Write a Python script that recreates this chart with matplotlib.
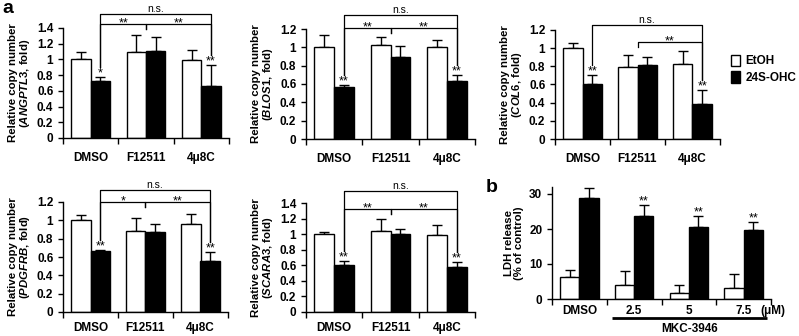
import numpy as np
import matplotlib
matplotlib.use('Agg')
import matplotlib.pyplot as plt
import matplotlib.transforms as mtransforms
from matplotlib.patches import Patch
from matplotlib.ticker import FuncFormatter

plt.rcParams['font.family'] = ['Liberation Sans', 'DejaVu Sans']
plt.rcParams['font.weight'] = 'bold'
plt.rcParams['mathtext.fontset'] = 'custom'
plt.rcParams['mathtext.rm'] = 'Liberation Sans:bold'
plt.rcParams['mathtext.it'] = 'Liberation Sans:italic:bold'

groups = ['DMSO', 'F12511', '4μ8C']

# relative copy number (fold), EtOH vs 24S-OHC
angptl3_etoh = [1.00, 1.10, 0.99]
angptl3_etoh_err = [0.10, 0.21, 0.13]
angptl3_ohc = [0.72, 1.11, 0.66]
angptl3_ohc_err = [0.06, 0.17, 0.27]

blos1_etoh = [1.00, 1.03, 1.00]
blos1_etoh_err = [0.13, 0.08, 0.08]
blos1_ohc = [0.57, 0.90, 0.63]
blos1_ohc_err = [0.02, 0.12, 0.07]

col6_etoh = [1.00, 0.79, 0.83]
col6_etoh_err = [0.06, 0.14, 0.14]
col6_ohc = [0.61, 0.81, 0.38]
col6_ohc_err = [0.09, 0.09, 0.16]

pdgfrb_etoh = [1.00, 0.88, 0.96]
pdgfrb_etoh_err = [0.06, 0.15, 0.11]
pdgfrb_ohc = [0.67, 0.87, 0.56]
pdgfrb_ohc_err = [0.01, 0.09, 0.09]

scara3_etoh = [1.00, 1.04, 0.99]
scara3_etoh_err = [0.03, 0.16, 0.13]
scara3_ohc = [0.60, 1.00, 0.58]
scara3_ohc_err = [0.05, 0.07, 0.06]

# LDH release (% of control)
ldh_groups = ['DMSO', '2.5', '5', '7.5']
ldh_etoh = [6.4, 3.9, 1.8, 3.2]
ldh_etoh_err = [2.0, 4.1, 2.1, 3.9]
ldh_ohc = [28.9, 23.7, 20.6, 19.6]
ldh_ohc_err = [2.8, 3.2, 3.0, 2.4]

W = 0.35
FIG_W, FIG_H = 799, 336


def px_rect(l, r, t, b):
    return [l / FIG_W, 1 - b / FIG_H, (r - l) / FIG_W, (b - t) / FIG_H]


def bar_panel(fig, rect, cats, etoh, etoh_err, ohc, ohc_err, ymax, yticks,
              ylabel, stars, xpad):
    ax = fig.add_axes(rect)
    x = np.arange(len(cats)) + 0.5
    ax.bar(x - W / 2, etoh, W, color='white', edgecolor='black', lw=1.0, zorder=2)
    ax.bar(x + W / 2, ohc, W, color='black', edgecolor='black', lw=1.0, zorder=2)
    for xs, v, e in [(x - W / 2, etoh, etoh_err), (x + W / 2, ohc, ohc_err)]:
        ax.errorbar(xs, v, yerr=[np.zeros(len(v)), e], fmt='none', ecolor='black',
                    elinewidth=1.0, capsize=3.5, capthick=1.0, zorder=1)
    for xi, v, e, s in zip(x + W / 2, ohc, ohc_err, stars):
        if s:
            ax.annotate(s, (xi, v + e), xytext=(0, 0.5), textcoords='offset points',
                        ha='center', va='baseline', fontsize=9, fontweight='normal')
    ax.set_xlim(0, len(cats))
    ax.set_ylim(0, ymax)
    ax.set_yticks(yticks)
    ax.yaxis.set_major_formatter(FuncFormatter(lambda v, p: '%g' % v))
    ax.set_xticks(x)
    ax.set_xticklabels(cats)
    ax.set_xticks(np.arange(len(cats) + 1), minor=True)
    ax.tick_params(axis='x', which='major', length=0, pad=xpad, labelsize=8.5)
    ax.tick_params(axis='x', which='minor', length=4.5, width=1.0, direction='out')
    ax.tick_params(axis='y', length=3.5, width=1.0, labelsize=8.5)
    for sp in ['top', 'right']:
        ax.spines[sp].set_visible(False)
    for sp in ['left', 'bottom']:
        ax.spines[sp].set_linewidth(1.0)
    ax.set_ylabel(ylabel, fontsize=8.2, fontweight='bold', labelpad=3.5,
                  linespacing=1.05)
    return ax


def bracket(ax, rect, vals, errs, ymax, a, b, h, text):
    # a, b: ('bar', i) -> 24S-OHC bar of group i, ('mid', i) -> centre of group i
    trans = mtransforms.blended_transform_factory(ax.transData, ax.transAxes)
    hpx = rect[3] * FIG_H
    pts = []
    for kind, i in (a, b):
        if kind == 'bar':
            xx = i + 0.5 + W / 2
            yy = (vals[i] + errs[i]) / ymax + 10 / hpx
        else:
            xx = i + 0.5
            yy = h - 5 / hpx
        pts.append((xx, yy))
    ax.plot([pts[0][0], pts[0][0], pts[1][0], pts[1][0]],
            [pts[0][1], h, h, pts[1][1]], color='black', lw=0.9,
            transform=trans, clip_on=False)
    off = -2 if '*' in text else 1.5
    fs = 9 if '*' in text else 7.5
    ax.annotate(text, ((pts[0][0] + pts[1][0]) / 2, h), xycoords=trans,
                xytext=(0, off), textcoords='offset points', ha='center',
                va='baseline', fontsize=fs, fontweight='normal')


fig = plt.figure(figsize=(FIG_W / 100, FIG_H / 100), dpi=100)

ticks14 = np.arange(0, 1.41, 0.2)
ticks12 = np.arange(0, 1.21, 0.2)

panels = [
    (px_rect(63, 229, 28, 138), 'ANGPTL3', angptl3_etoh, angptl3_etoh_err,
     angptl3_ohc, angptl3_ohc_err, 1.4, ticks14, ['*', '', '**'],
     [(('bar', 0), ('bar', 2), 1.127, 'n.s.'), (('bar', 0), ('mid', 1), 1.036, '**'),
      (('mid', 1), ('bar', 2), 1.036, '**')], 10),
    (px_rect(306, 475, 29, 139), 'BLOS1', blos1_etoh, blos1_etoh_err,
     blos1_ohc, blos1_ohc_err, 1.2, ticks12, ['**', '', '**'],
     [(('bar', 0), ('bar', 2), 1.127, 'n.s.'), (('bar', 0), ('mid', 1), 1.009, '**'),
      (('mid', 1), ('bar', 2), 1.009, '**')], 10),
    (px_rect(555, 720, 30, 139), 'COL6', col6_etoh, col6_etoh_err,
     col6_ohc, col6_ohc_err, 1.2, ticks12, ['**', '', '**'],
     [(('bar', 0), ('bar', 2), 1.046, 'n.s.'), (('mid', 1), ('bar', 2), 0.89, '**')], 10),
    (px_rect(63, 228, 202, 312), 'PDGFRB', pdgfrb_etoh, pdgfrb_etoh_err,
     pdgfrb_ohc, pdgfrb_ohc_err, 1.2, ticks12, ['**', '', '**'],
     [(('bar', 0), ('bar', 2), 1.109, 'n.s.'), (('bar', 0), ('mid', 1), 1.0, '*'),
      (('mid', 1), ('bar', 2), 1.0, '**')], 7.5),
    (px_rect(306, 475, 203, 312), 'SCARA3', scara3_etoh, scara3_etoh_err,
     scara3_ohc, scara3_ohc_err, 1.4, ticks14, ['**', '', '**'],
     [(('bar', 0), ('bar', 2), 1.11, 'n.s.'), (('bar', 0), ('mid', 1), 0.945, '**'),
      (('mid', 1), ('bar', 2), 0.945, '**')], 7.5),
]

for rect, gene, e, ee, o, oe, ymax, yt, stars, brs, xpad in panels:
    label = 'Relative copy number\n($\\mathit{%s}$, fold)' % gene
    ax = bar_panel(fig, rect, groups, e, ee, o, oe, ymax, yt, label, stars, xpad)
    for a, b, h, t in brs:
        bracket(ax, rect, o, oe, ymax, a, b, h, t)

# panel b
rect_b = px_rect(552, 771, 187, 299)
axb = bar_panel(fig, rect_b, ldh_groups, ldh_etoh, ldh_etoh_err, ldh_ohc,
                ldh_ohc_err, 32, [0, 10, 20, 30], 'LDH release\n(% of control)',
                ['', '**', '**', '**'], 4)
axb.annotate('(μM)', (0.95, 0), xycoords='axes fraction', xytext=(0, -4),
             textcoords='offset points', ha='left', va='top', fontsize=8.5)
tb = mtransforms.blended_transform_factory(axb.transData, axb.transAxes)
axb.plot([1.1, 3.92], [-0.17, -0.17], color='black', lw=2.0, transform=tb,
         clip_on=False, solid_capstyle='butt')
axb.text(2.51, -0.215, 'MKC-3946', transform=tb, ha='center', va='top', fontsize=8.5)

fig.legend(handles=[Patch(facecolor='white', edgecolor='black', lw=1.0),
                    Patch(facecolor='black', edgecolor='black', lw=1.0)],
           labels=['EtOH', '24S-OHC'], loc='upper left',
           bbox_to_anchor=(720 / FIG_W, 1 - 44 / FIG_H), frameon=False,
           handlelength=0.8, handleheight=1.1, handletextpad=0.45,
           labelspacing=0.35, prop={'size': 8.5, 'weight': 'bold'})

fig.text(2 / FIG_W, 1 - 0 / FIG_H, 'a', fontsize=14, fontweight='bold', va='top')
fig.text(486 / FIG_W, 1 - 179 / FIG_H, 'b', fontsize=14, fontweight='bold', va='top')

fig.savefig('out.png', dpi=100)
